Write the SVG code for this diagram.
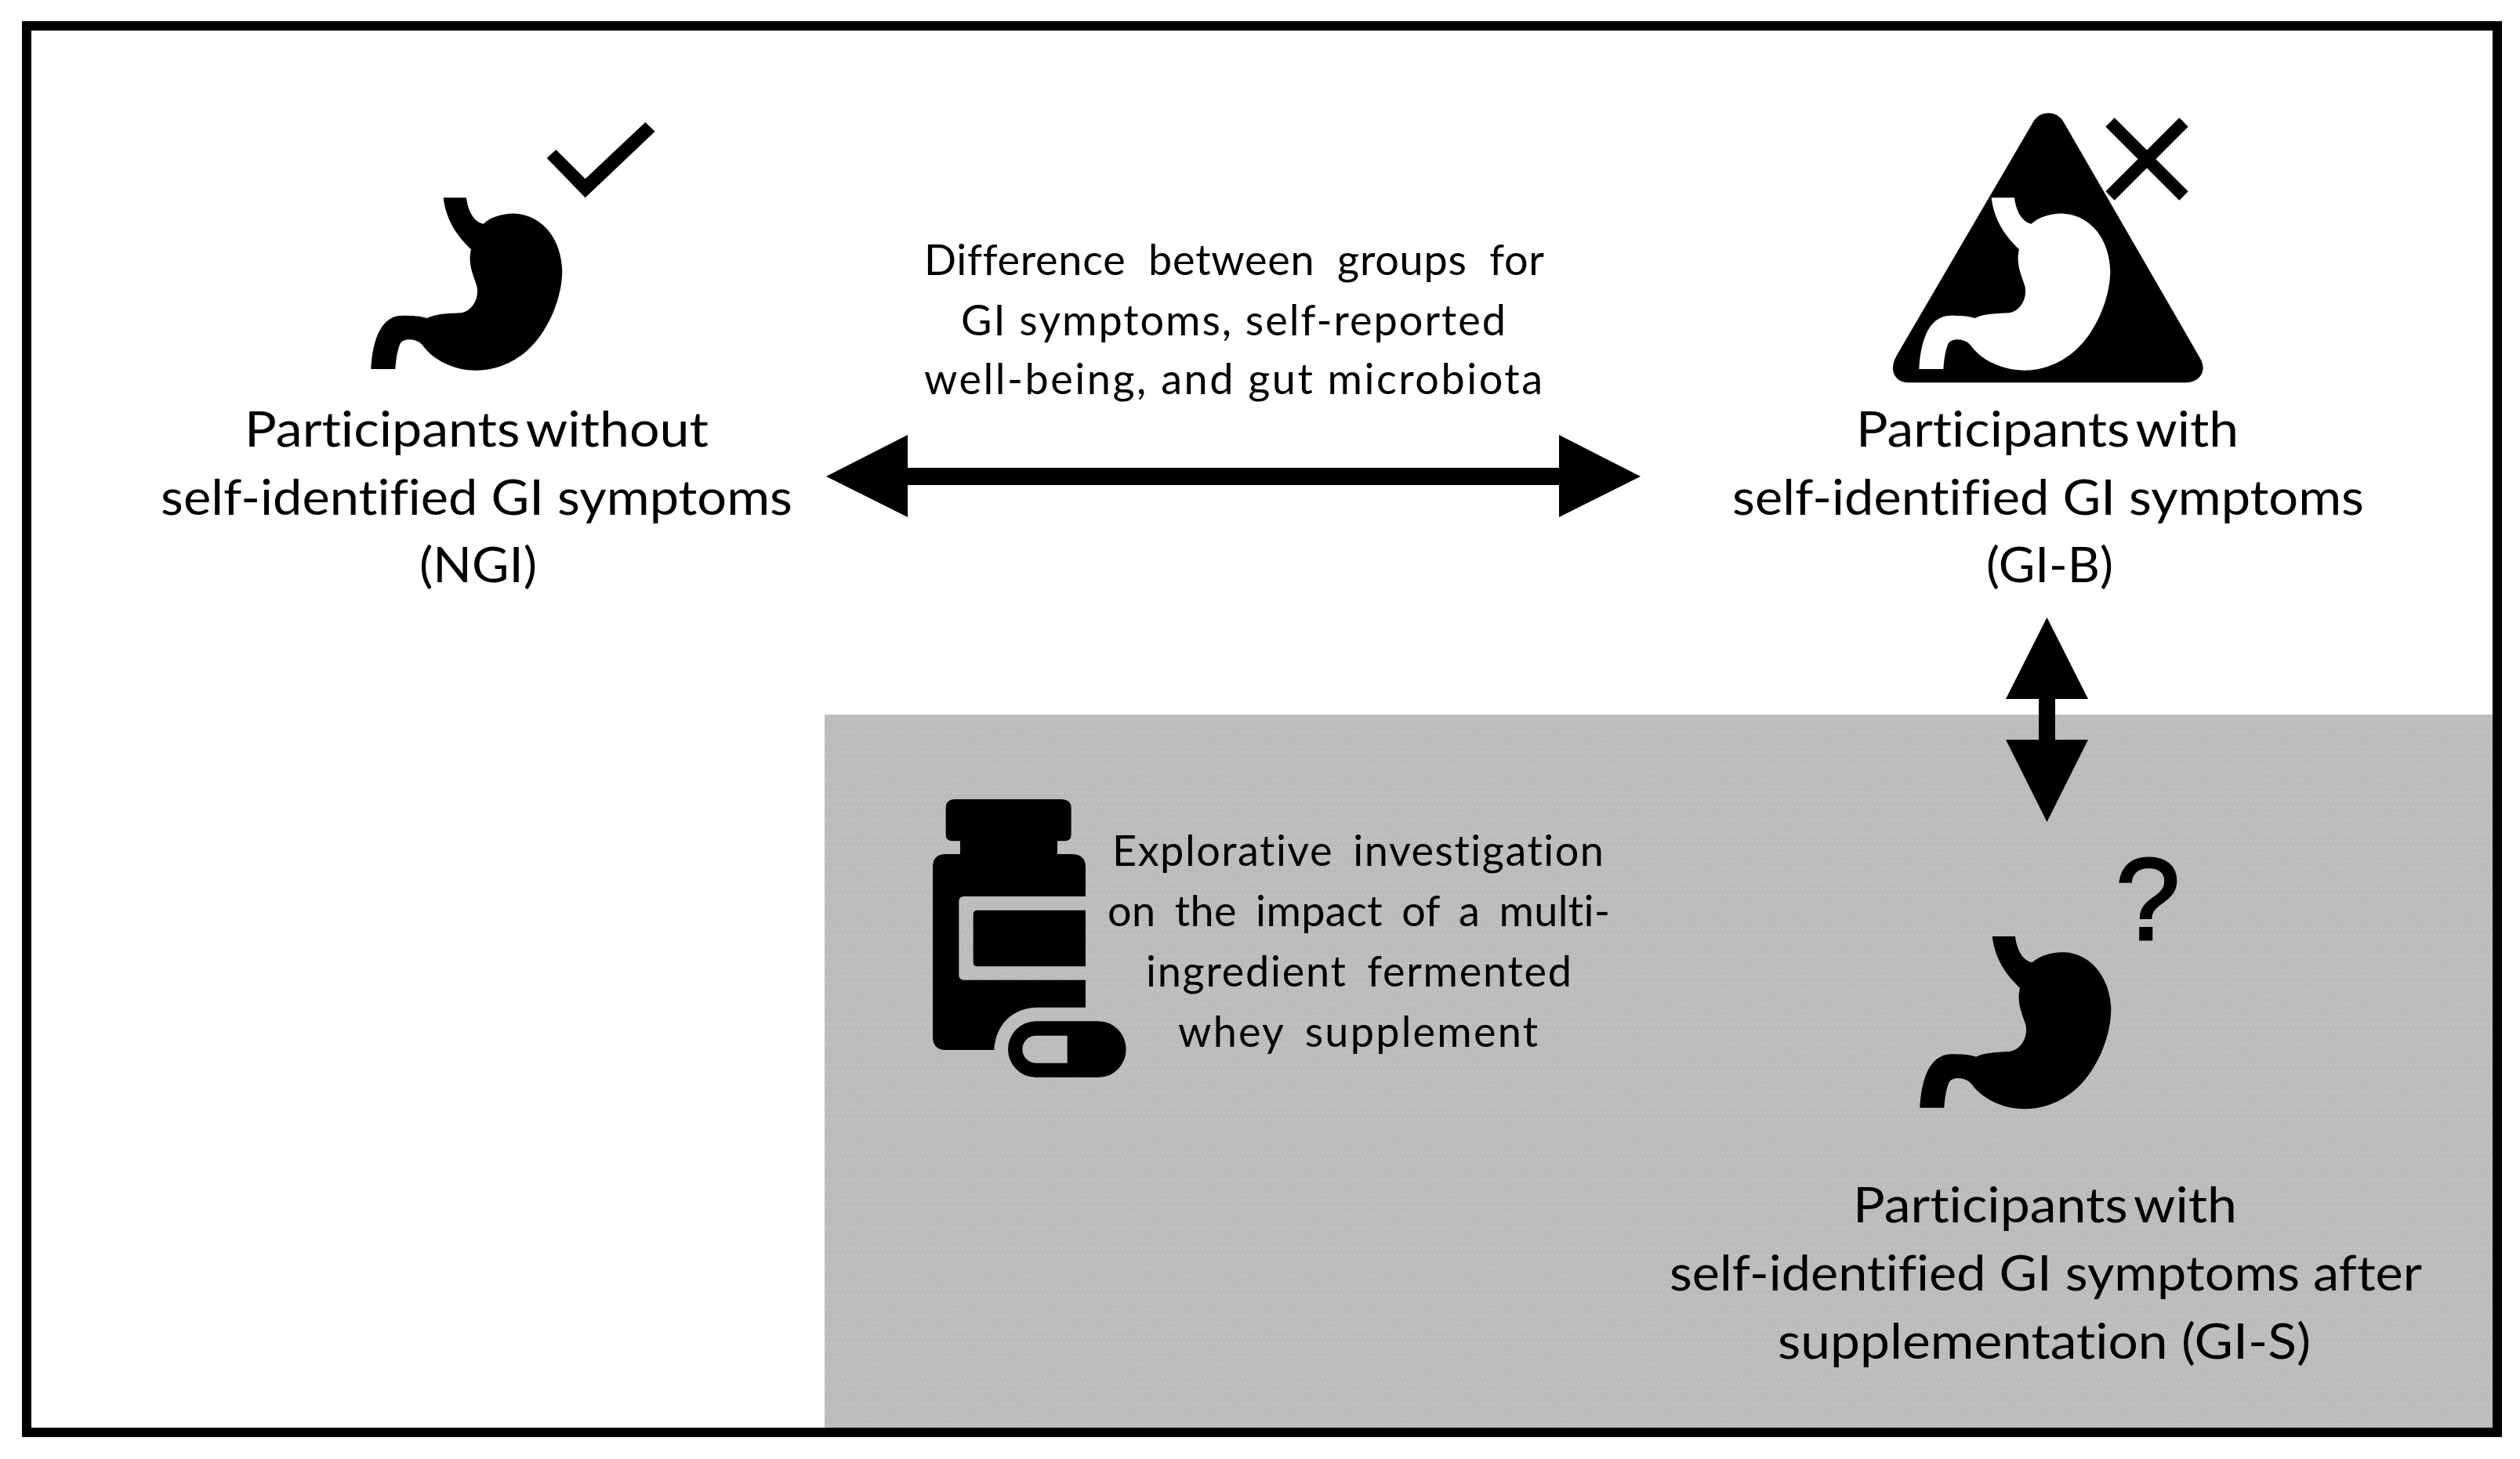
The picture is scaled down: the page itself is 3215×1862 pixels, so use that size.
<svg xmlns="http://www.w3.org/2000/svg" width="3215" height="1862" viewBox="0 0 3215 1862">
<style>
text{font-family:Lato,"Liberation Sans",sans-serif;fill:#000;font-variant-ligatures:none}
.big{font-size:62px}
.mid{font-size:54px}
.ico{fill:#000}
</style>
<defs>
<pattern id="dots" width="18" height="26" patternUnits="userSpaceOnUse" patternTransform="translate(1052 912)">
<rect width="18" height="26" fill="#bcbcbc"/>
<g fill="#c6c6c6">
<rect x="1" y="4" width="2" height="2"/><rect x="7" y="4" width="2" height="2"/><rect x="13" y="4" width="2" height="2"/>
<rect x="4" y="13" width="2" height="2"/><rect x="10" y="13" width="2" height="2"/><rect x="16" y="13" width="2" height="2"/>
<rect x="2" y="21" width="2" height="2"/><rect x="8" y="21" width="2" height="2"/><rect x="14" y="21" width="2" height="2"/>
</g>
</pattern>
<path id="stomach" d="M497,397 L585,397 C590,440 610,490 650,497 C680,470 730,455 775,458 C880,465 950,560 952,680 C950,800 880,950 780,1010 C720,1050 660,1058 620,1058 C540,1058 460,1020 420,965 C400,935 340,930 330,960 C318,990 315,1030 313,1053 L220,1053 C225,960 250,850 340,848 C380,848 410,850 435,858 C470,840 530,840 565,838 C610,830 635,780 625,735 C610,690 590,650 603,595 C580,570 510,510 497,397 Z"/>
</defs>
<rect width="3215" height="1862" fill="#fff"/>
<rect id="region" x="1052" y="912" width="2129" height="910" fill="url(#dots)"/>
<rect id="frame" x="34" y="33" width="3152" height="1795" fill="none" stroke="#000" stroke-width="12"/>
<g id="node-ngi">
<use href="#stomach" class="ico" transform="translate(400 120) scale(.3333)"/>
<polygon class="ico" points="893,245 928,213 1040,325 1270,108 1307,143 1040,397" transform="translate(400 120) scale(.3333)"/>
<text class="big" x="312" y="570" textLength="592" lengthAdjust="spacingAndGlyphs" word-spacing="-8">Participants without</text>
<text class="big" x="205" y="657" textLength="806" lengthAdjust="spacingAndGlyphs">self-identified GI symptoms</text>
<text class="big" x="535" y="743" textLength="150" lengthAdjust="spacingAndGlyphs">(NGI)</text>
</g>
<g id="node-gib">
<path class="ico" d="M640,110 C665,60 735,60 760,110 L1280,1010 C1310,1060 1280,1105 1225,1105 L165,1105 C115,1105 85,1060 120,1000 Z" transform="translate(2380 120) scale(.3333)"/>
<use href="#stomach" fill="#fff" transform="translate(2375 120) scale(.3333)"/>
<path d="M2692,156 L2786,250 M2786,156 L2692,250" fill="none" stroke="#000" stroke-width="16"/>
<text class="big" x="2368" y="570" textLength="488" lengthAdjust="spacingAndGlyphs" word-spacing="-8">Participants with</text>
<text class="big" x="2210" y="657" textLength="806" lengthAdjust="spacingAndGlyphs">self-identified GI symptoms</text>
<text class="big" x="2534" y="743" textLength="162" lengthAdjust="spacingAndGlyphs">(GI-B)</text>
</g>
<g id="node-gis">
<use href="#stomach" class="ico" transform="translate(2376 1062.7) scale(.3333)"/>
<text x="2699" y="1199" font-size="148" stroke="#000" stroke-width="3" style="font-family:'Liberation Sans',sans-serif">?</text>
<text class="big" x="2364" y="1560" textLength="490" lengthAdjust="spacingAndGlyphs" word-spacing="-8">Participants with</text>
<text class="big" x="2130" y="1647" textLength="960" lengthAdjust="spacingAndGlyphs">self-identified GI symptoms after</text>
<text class="big" x="2268" y="1734" textLength="680" lengthAdjust="spacingAndGlyphs">supplementation (GI-S)</text>
</g>
<g id="node-supplement">
<g transform="translate(1150 990) scale(.3333)">
<path class="ico" fill-rule="evenodd" d="M705,887 L520,887 C430,887 360,950 355,1050 L170,1050 Q120,1050 120,1000 L120,350 Q120,300 170,300 L225,300 L225,250 L195,250 Q170,250 170,225 L170,125 Q170,90 205,90 L610,90 Q650,90 650,125 L650,225 Q650,250 625,250 L597,250 L597,300 L650,300 Q705,300 705,350 Z M705,462 L240,462 Q220,462 220,482 L220,762 Q220,782 240,782 L705,782 L705,730 L290,730 Q275,730 275,715 L275,530 Q275,515 290,515 L705,515 Z"/>
<path class="ico" fill-rule="evenodd" d="M515,940 L755,940 A105,107.5 0 0 1 755,1155 L515,1155 A107,107.5 0 0 1 515,940 Z M635,995 L515,995 A52,52.5 0 0 0 515,1100 L635,1100 Z"/>
</g>
<text class="mid" x="1419" y="1105" textLength="627" word-spacing="10">Explorative investigation</text>
<text class="mid" x="1413" y="1182" textLength="641" word-spacing="10">on the impact of a multi-</text>
<text class="mid" x="1462" y="1259" textLength="543" word-spacing="10">ingredient fermented</text>
<text class="mid" x="1503" y="1336" textLength="459" word-spacing="10">whey supplement</text>
</g>
<g id="node-difference">
<text class="mid" x="1179" y="351" textLength="791" word-spacing="14">Difference between groups for</text>
<text class="mid" x="1226" y="428" textLength="695">GI symptoms, self-reported</text>
<text class="mid" x="1179" y="503" textLength="789">well-being, and gut microbiota</text>
</g>
<g id="connectors">
<path class="ico" d="M1054,608 L1158,555 L1158,597 L1989,597 L1989,555 L2093,608 L1989,660 L1989,619 L1158,619 L1158,660 Z"/>
<path class="ico" d="M2611.5,788 L2664,892 L2622,892 L2622,944 L2664,944 L2611.5,1049 L2559,944 L2601,944 L2601,892 L2559,892 Z"/>
</g>
</svg>
